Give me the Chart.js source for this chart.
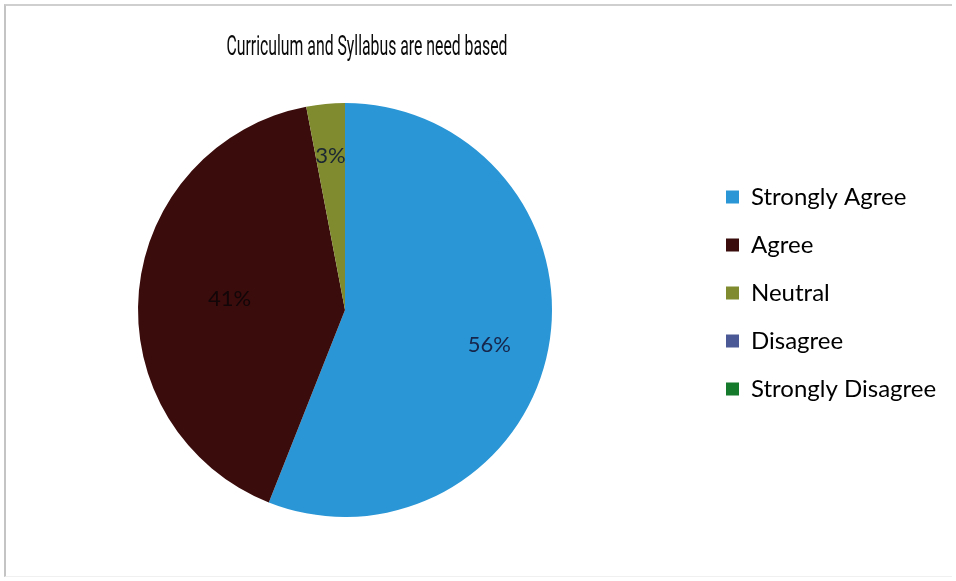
<!DOCTYPE html>
<html>
<head>
<meta charset="utf-8">
<script src="https://cdn.jsdelivr.net/npm/chart.js@4.4.1/dist/chart.umd.min.js"></script>
<style>
    html, body { margin: 0; padding: 0; background: #fff; }
    #wrap { position: relative; width: 956px; height: 581px; }
    #frame {
        position: absolute; left: 4px; top: 4px; right: 4px; bottom: 4px;
        border-left: 2px solid #c4c4c4; border-top: 2px solid #cfcfcf;
        border-bottom: 1px solid #f0f0f0;
        pointer-events: none;
    }
</style>
</head>
<body>
<div id="wrap">
    <canvas id="pieChart"></canvas>
    <div id="frame"></div>
</div>
<script>
// Survey answers (percent of respondents)
const chartTitle = "Curriculum and Syllabus are need based";
const categories = ["Strongly Agree", "Agree", "Neutral", "Disagree", "Strongly Disagree"];
const percentages = [56, 41, 3, 0, 0];
const sliceColors = ["#2a96d6", "#3b0c0c", "#7f8b2e", "#4b5a96", "#157a2c"];

// Where the pie and legend sit once Chart.js has done its layout
const placeBoxes = {
    id: 'placeBoxes',
    afterLayout(chart, args, opts) {
        const area = chart.chartArea;
        const dx = opts.pieCenterX - (area.left + area.right) / 2;
        area.left += dx;
        area.right += dx;

        const lg = chart.legend;
        const lx = opts.legendX - (lg.left + lg.options.labels.padding);
        lg.left += lx;
        lg.right += lx;
        lg.top += opts.legendDy;
        lg.bottom += opts.legendDy;
        lg.adjustHitBoxes();
    }
};

// Narrow title drawn above the pie
const narrowTitle = {
    id: 'narrowTitle',
    afterDraw(chart, args, opts) {
        const ctx = chart.ctx;
        ctx.save();
        ctx.font = opts.font;
        ctx.fillStyle = opts.color;
        ctx.textAlign = 'center';
        ctx.textBaseline = 'middle';
        ctx.translate(opts.x, opts.y);
        ctx.scale(opts.scaleX, 1);
        ctx.fillText(opts.text, 0, 0);
        ctx.restore();
    }
};

// Percent labels inside each slice
const sliceLabels = {
    id: 'sliceLabels',
    afterDatasetsDraw(chart, args, opts) {
        const ctx = chart.ctx;
        const meta = chart.getDatasetMeta(0);
        const values = chart.data.datasets[0].data;
        ctx.save();
        ctx.font = opts.font;
        ctx.textAlign = 'center';
        ctx.textBaseline = 'middle';
        meta.data.forEach((arc, i) => {
            if (!values[i]) return;
            const mid = (arc.startAngle + arc.endAngle) / 2;
            const r = arc.outerRadius * opts.radius[i];
            ctx.fillStyle = opts.colors[i];
            ctx.fillText(values[i] + '%',
                arc.x + Math.cos(mid) * r,
                arc.y + Math.sin(mid) * r + opts.nudgeY[i]);
        });
        ctx.restore();
    }
};

new Chart(document.getElementById("pieChart"), {
    type: 'pie',
    data: {
        labels: categories,
        datasets: [{
            data: percentages,
            backgroundColor: sliceColors,
            borderWidth: 0
        }]
    },
    options: {
        responsive: true,
        maintainAspectRatio: false,
        animation: false,
        layout: {
            padding: { top: 103, bottom: 64, left: 0, right: 0 }
        },
        plugins: {
            title: { display: false, text: chartTitle },
            tooltip: { enabled: false },
            legend: {
                position: 'right',
                labels: {
                    boxWidth: 13,
                    boxHeight: 13,
                    padding: 24,
                    color: '#000',
                    font: { family: 'Lato', size: 24 }
                }
            },
            placeBoxes: { pieCenterX: 345, legendX: 726, legendDy: -17 },
            narrowTitle: {
                text: chartTitle,
                x: 367, y: 48,
                scaleX: 0.585,
                font: '27px Roboto',
                color: '#0a0a0a'
            },
            sliceLabels: {
                font: '22px Lato',
                radius: [0.71, 0.56, 0.75, 0.7, 0.7],
                nudgeY: [7, 0, 0, 0, 0],
                colors: ['#16254a', '#120608', '#1b2633', '#111', '#111']
            }
        }
    },
    plugins: [placeBoxes, narrowTitle, sliceLabels]
});
</script>
</body>
</html>
